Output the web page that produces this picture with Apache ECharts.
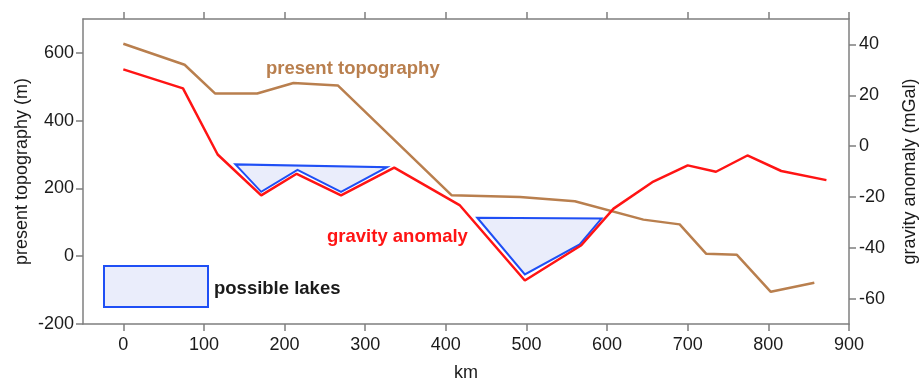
<!DOCTYPE html>
<html>
<head>
<meta charset="utf-8">
<script src="https://cdn.jsdelivr.net/npm/echarts@6/dist/echarts.min.js"></script>
<style>
html,body{margin:0;padding:0;background:#fff;}
#chart{width:919px;height:380px;}
</style>
</head>
<body>
<div id="chart"></div>
<script>
// ---- data ----
const kmTicks = [0, 100, 200, 300, 400, 500, 600, 700, 800, 900];
const topoTicks = [-200, 0, 200, 400, 600];
const gravTicks = [-60, -40, -20, 0, 20, 40];

const topoKm = [0, 76, 114, 166, 211, 266, 407, 492, 560, 645, 690, 723, 761, 803, 857];
const topoM  = [627, 565, 480, 480, 511, 504, 180, 175, 162, 108, 94, 7, 4, -105, -78];

const gravKm   = [0, 74, 117, 171, 215, 270, 336, 417, 498, 568, 608, 656, 700, 735, 774, 816, 872];
const gravMgal = [30.2, 22.7, -3.3, -19.4, -10.9, -19.4, -8.5, -23.2, -52.9, -39, -24.6, -14.2, -7.6, -10.1, -3.7, -9.8, -13.4];

const lake1Km   = [139, 171, 216, 270, 327];
const lake1Mgal = [-7.2, -18, -9.4, -18, -8.3];
const lake2Km   = [439, 498, 566, 593];
const lake2Mgal = [-28.2, -50.5, -38.7, -28.5];

const lakes = [
  lake1Km.map((x, i) => [x, lake1Mgal[i]]),
  lake2Km.map((x, i) => [x, lake2Mgal[i]])
];

// ---- chart ----
const FONT = '"Liberation Sans", Arial, Helvetica, sans-serif';
const AXC = '#7f7f7f';
const TXT = '#1a1a1a';
const BROWN = '#b97f4e';
const RED = '#ff1414';
const BLUE = '#1f4ff5';
const LAKEFILL = '#eaedfb';

const chart = echarts.init(document.getElementById('chart'));

const axisLineStyle = { show: true, onZero: false, lineStyle: { color: AXC, width: 1.5 } };

const option = {
  animation: false,
  backgroundColor: '#fff',
  textStyle: { fontFamily: FONT },
  grid: { left: 83, right: 70, top: 19, bottom: 56, containLabel: false, outerBoundsMode: 'none' },
  xAxis: [
    {
      type: 'value', position: 'bottom', min: -50, max: 900,
      name: 'km', nameLocation: 'middle', nameGap: 40,
      nameTextStyle: { fontSize: 18, color: TXT, fontFamily: FONT },
      axisLine: axisLineStyle,
      axisTick: { show: true, length: 7, inside: false, customValues: kmTicks, lineStyle: { color: AXC, width: 1.5 } },
      axisLabel: { show: true, customValues: kmTicks, margin: 12, fontSize: 18, color: TXT, fontFamily: FONT },
      splitLine: { show: false }
    },
    {
      type: 'value', position: 'top', min: -50, max: 900,
      axisLine: axisLineStyle,
      axisTick: { show: true, length: 7, inside: false, customValues: kmTicks, lineStyle: { color: AXC, width: 1.5 } },
      axisLabel: { show: false },
      splitLine: { show: false }
    }
  ],
  yAxis: [
    {
      type: 'value', position: 'left', min: -200, max: 700,
      name: 'present topography (m)', nameLocation: 'middle', nameGap: 52, nameRotate: 90,
      nameMoveOverlap: false,
      nameTextStyle: { fontSize: 18, color: TXT, fontFamily: FONT },
      axisLine: axisLineStyle,
      axisTick: { show: true, length: 7, inside: false, customValues: topoTicks, lineStyle: { color: AXC, width: 1.5 } },
      axisLabel: { show: true, customValues: topoTicks, margin: 9, fontSize: 18, color: TXT, fontFamily: FONT },
      splitLine: { show: false }
    },
    {
      type: 'value', position: 'right', min: -70, max: 50,
      name: 'gravity anomaly (mGal)', nameLocation: 'middle', nameGap: 52, nameRotate: 90,
      nameTextStyle: { fontSize: 18, color: TXT, fontFamily: FONT },
      axisLine: axisLineStyle,
      axisTick: { show: true, length: 7, inside: false, customValues: gravTicks, lineStyle: { color: AXC, width: 1.5 } },
      axisLabel: { show: true, customValues: gravTicks, margin: 10, fontSize: 18, color: TXT, fontFamily: FONT },
      splitLine: { show: false }
    }
  ],
  series: [
    {
      name: 'lakes', type: 'custom', xAxisIndex: 0, yAxisIndex: 1, z: 1,
      data: lakes.map((l, i) => [l[0][0], l[0][1], i]),
      renderItem: function (params, api) {
        const pts = lakes[params.dataIndex].map(p => api.coord(p));
        return {
          type: 'polygon',
          shape: { points: pts },
          style: { fill: LAKEFILL, stroke: BLUE, lineWidth: 2, lineJoin: 'miter' }
        };
      }
    },
    {
      name: 'present topography', type: 'line', xAxisIndex: 0, yAxisIndex: 0, z: 2,
      data: topoKm.map((x, i) => [x, topoM[i]]),
      symbol: 'none', lineStyle: { color: BROWN, width: 2.5 }
    },
    {
      name: 'gravity anomaly', type: 'line', xAxisIndex: 0, yAxisIndex: 1, z: 3,
      data: gravKm.map((x, i) => [x, gravMgal[i]]),
      symbol: 'none', lineStyle: { color: RED, width: 2.5 }
    }
  ],
  graphic: [
    { type: 'text', left: 266, top: 59, style: { text: 'present topography', fill: BROWN, font: 'bold 18.5px ' + FONT } },
    { type: 'text', left: 327, top: 227, style: { text: 'gravity anomaly', fill: RED, font: 'bold 18.5px ' + FONT } },
    { type: 'rect', shape: { x: 104, y: 266, width: 104, height: 41 }, style: { fill: LAKEFILL, stroke: BLUE, lineWidth: 2 } },
    { type: 'text', left: 214, top: 279, style: { text: 'possible lakes', fill: TXT, font: 'bold 18.5px ' + FONT } }
  ]
};
chart.setOption(option);
</script>
</body>
</html>
